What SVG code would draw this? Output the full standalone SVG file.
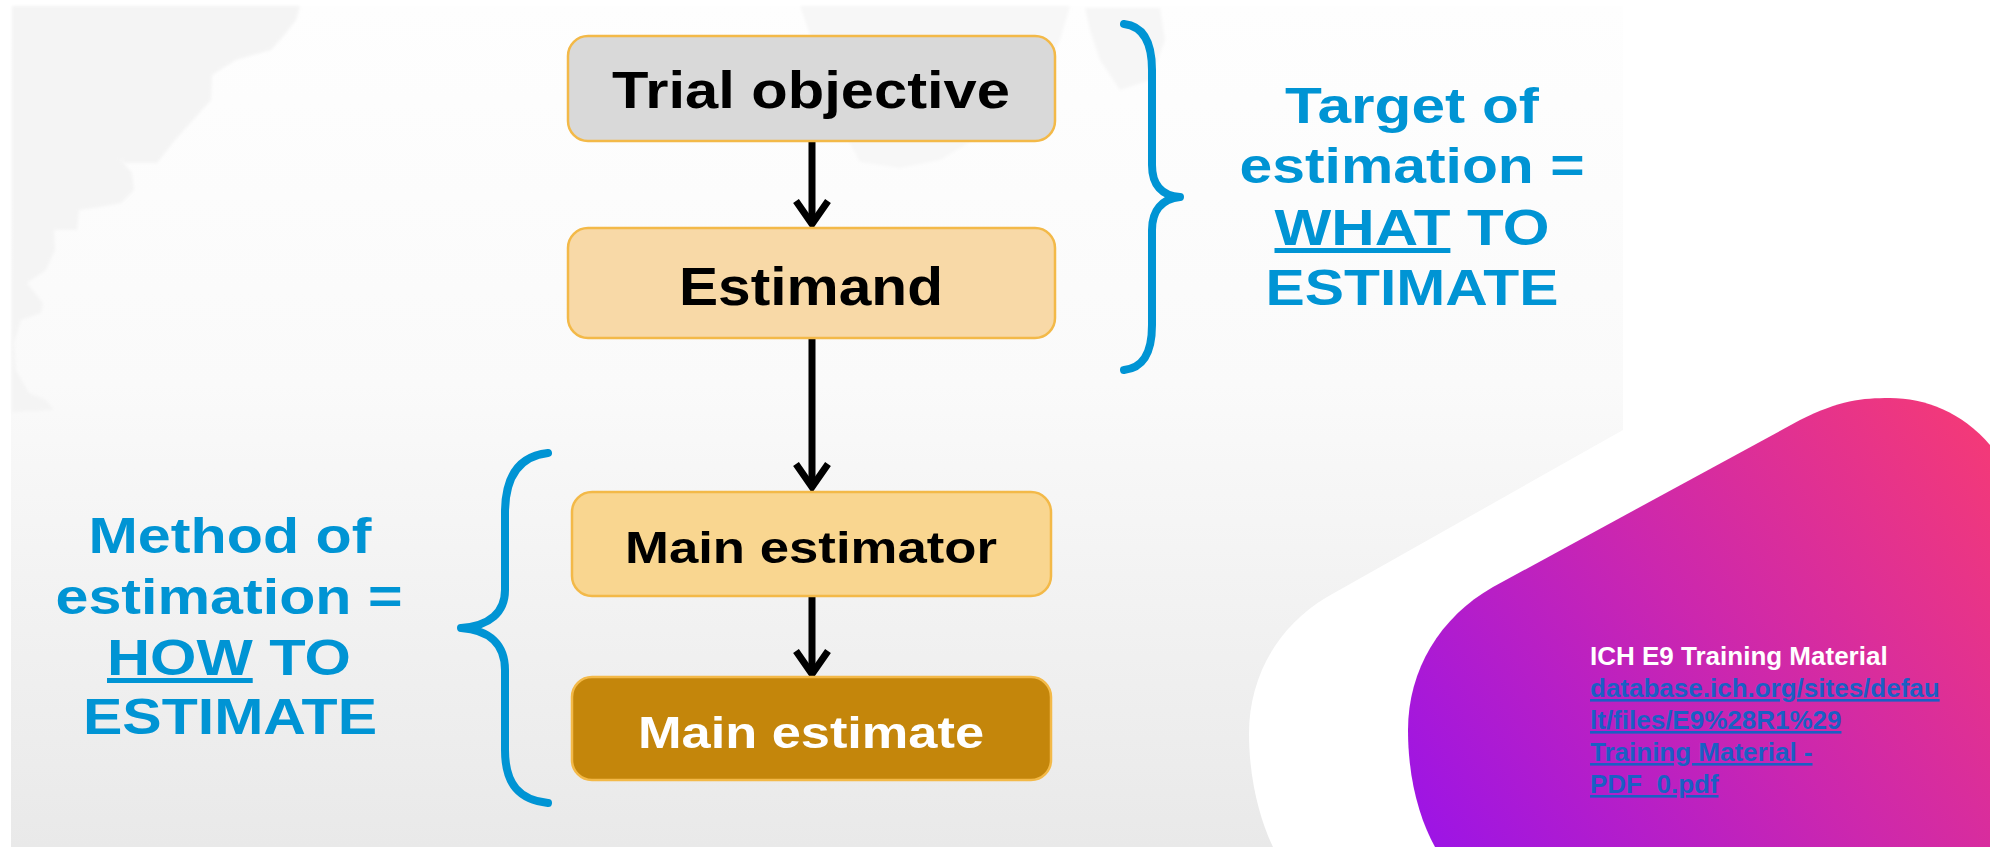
<svg xmlns="http://www.w3.org/2000/svg" width="2000" height="847" viewBox="0 0 2000 847">
  <defs>
    <linearGradient id="slideBg" x1="0" y1="0" x2="0" y2="1">
      <stop offset="0" stop-color="#FEFEFE"/>
      <stop offset="0.45" stop-color="#FAFAFA"/>
      <stop offset="1" stop-color="#E9E9E9"/>
    </linearGradient>
    <linearGradient id="pinkGrad" gradientUnits="userSpaceOnUse" x1="1420" y1="840" x2="1990" y2="420">
      <stop offset="0" stop-color="#9C14E6"/>
      <stop offset="0.5" stop-color="#CC27AE"/>
      <stop offset="1" stop-color="#F53A76"/>
    </linearGradient>
    <filter id="soft" x="-5%" y="-5%" width="110%" height="110%">
      <feGaussianBlur stdDeviation="1.5"/>
    </filter>
    <marker id="chevron" markerUnits="userSpaceOnUse" viewBox="-30 -22 34 44" refX="0" refY="0" markerWidth="34" markerHeight="44" orient="auto">
      <path d="M-23,-16 L0,0 L-23,16" fill="none" stroke="#000" stroke-width="7" stroke-linejoin="miter"/>
    </marker>
    <style>
      .box { stroke: #F3B948; stroke-width: 2.5; }
      .lbl { font-family: "Liberation Sans", Arial, sans-serif; font-weight: bold; text-anchor: middle; }
      .blue { font-family: "Liberation Sans", Arial, sans-serif; font-weight: bold; font-size: 50px; fill: #0094D4; text-anchor: middle; }
      .brace { fill: none; stroke: #0094D4; stroke-width: 8; stroke-linecap: round; stroke-linejoin: round; }
      .conn { stroke: #000; stroke-width: 7; fill: none; }
      .ref { font-family: "Liberation Sans", Arial, sans-serif; font-weight: bold; font-size: 26px; }
    </style>
  </defs>

  <!-- background -->
  <rect x="0" y="0" width="2000" height="847" fill="#FFFFFF"/>
  <rect x="11" y="6" width="1612" height="841" fill="url(#slideBg)"/>
  <g id="map-shapes" filter="url(#soft)">
    <path fill="#F4F4F4" d="M12,6 L300,6 L296,20 L286,33 L271,50 L236,60 L212,75 L211,100 L193,120 L175,140 L157,163 L125,163 L118,157 L132,173 L134,190 L121,203 L100,207 L79,210 L77,230 L54,230 L55,250 L46,270 L27,283 L43,303 L41,313 L21,320 L14,343 L16,370 L29,393 L46,400 L54,410 L12,412 Z"/>
    <path fill="#F7F7F7" d="M800,6 L1070,6 L1060,40 L1040,80 L1000,120 L965,145 L940,160 L900,168 L860,162 L848,140 L830,100 L812,40 Z"/>
    <path fill="#F6F6F6" d="M1085,8 L1160,8 L1165,40 L1150,80 L1120,90 L1100,60 L1090,30 Z"/>
  </g>
  <path id="white-band" d="M1623,430 L1327,597 C1275,628 1249,680 1249,733 C1249,780 1260,820 1273,847 L1625,847 L1625,430 Z" fill="#FFFFFF"/>
  <path id="pink-shape" d="M1990,847 L1990,445 C1962,412 1925,398 1890,398 C1862,398 1840,400 1800,420 L1493,587 C1440,617 1408,670 1408,730 C1408,780 1420,820 1435,847 Z" fill="url(#pinkGrad)"/>

  <!-- connectors -->
  <g id="connectors">
    <line class="conn" x1="812" y1="141" x2="812" y2="224" marker-end="url(#chevron)"/>
    <line class="conn" x1="812" y1="338" x2="812" y2="487" marker-end="url(#chevron)"/>
    <line class="conn" x1="812" y1="596" x2="812" y2="674" marker-end="url(#chevron)"/>
  </g>

  <!-- nodes -->
  <g id="trial-objective">
    <rect class="box" x="568" y="36" width="487" height="105" rx="20" fill="#D9D9D9"/>
    <text class="lbl" x="811" y="108" font-size="52" fill="#000" textLength="398" lengthAdjust="spacingAndGlyphs">Trial objective</text>
  </g>
  <g id="estimand">
    <rect class="box" x="568" y="228" width="487" height="110" rx="20" fill="#F8D9A7"/>
    <text class="lbl" x="811" y="305" font-size="53" fill="#000" textLength="264" lengthAdjust="spacingAndGlyphs">Estimand</text>
  </g>
  <g id="main-estimator">
    <rect class="box" x="572" y="492" width="479" height="104" rx="20" fill="#F9D690"/>
    <text class="lbl" x="811" y="563" font-size="45" fill="#000" textLength="372" lengthAdjust="spacingAndGlyphs">Main estimator</text>
  </g>
  <g id="main-estimate">
    <rect class="box" x="572" y="677" width="479" height="103" rx="20" fill="#C4860B"/>
    <text class="lbl" x="811" y="748" font-size="45" fill="#FFFFFF" textLength="346" lengthAdjust="spacingAndGlyphs">Main estimate</text>
  </g>

  <g id="target-brace">
    <path class="brace" d="M1124,24 C1142,26 1152,40 1152,70 L1152,165 C1152,185 1162,196 1180,197 C1162,199 1152,210 1152,230 L1152,325 C1152,355 1142,368 1124,370"/>
  </g>
  <g id="target-label">
    <text class="blue" x="1412" y="123" textLength="254" lengthAdjust="spacingAndGlyphs">Target of</text>
    <text class="blue" x="1412" y="183" textLength="345" lengthAdjust="spacingAndGlyphs">estimation =</text>
    <text class="blue" x="1412" y="245" textLength="275" lengthAdjust="spacingAndGlyphs"><tspan text-decoration="underline">WHAT</tspan> TO</text>
    <text class="blue" x="1412" y="305" textLength="293" lengthAdjust="spacingAndGlyphs">ESTIMATE</text>
  </g>

  <g id="method-brace">
    <path class="brace" d="M548,453 C520,456 505,475 505,513 L505,590 C505,612 490,626 461,628 C490,630 505,645 505,670 L505,750 C505,785 520,800 548,803"/>
  </g>
  <g id="method-label">
    <text class="blue" x="230" y="553" textLength="283" lengthAdjust="spacingAndGlyphs">Method of</text>
    <text class="blue" x="229" y="614" textLength="347" lengthAdjust="spacingAndGlyphs">estimation =</text>
    <text class="blue" x="229" y="675" textLength="244" lengthAdjust="spacingAndGlyphs"><tspan text-decoration="underline">HOW</tspan> TO</text>
    <text class="blue" x="230" y="734" textLength="294" lengthAdjust="spacingAndGlyphs">ESTIMATE</text>
  </g>

  <g id="reference">
    <text class="ref" x="1590" y="665" fill="#FFFFFF">ICH E9 Training Material</text>
    <g fill="#1A5FC4">
      <text class="ref" x="1590" y="697" text-decoration="underline">database.ich.org/sites/defau</text>
      <text class="ref" x="1590" y="729" text-decoration="underline">lt/files/E9%28R1%29</text>
      <text class="ref" x="1590" y="761" text-decoration="underline">Training Material -</text>
      <text class="ref" x="1590" y="793" text-decoration="underline">PDF_0.pdf</text>
    </g>
  </g>
</svg>
